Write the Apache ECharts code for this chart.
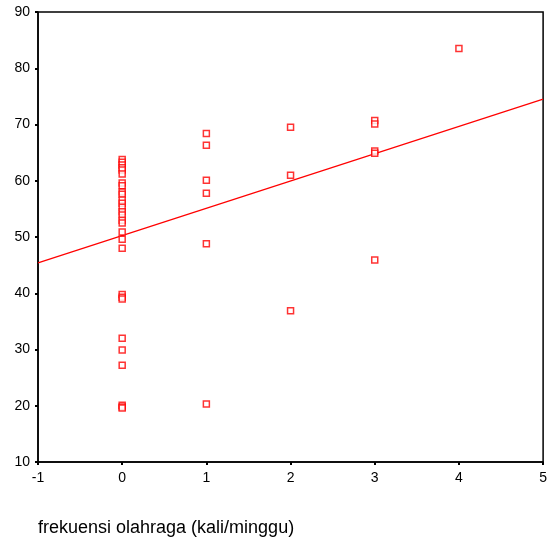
<!DOCTYPE html>
<html>
<head>
<meta charset="utf-8">
<script src="https://cdn.jsdelivr.net/npm/echarts@6/dist/echarts.min.js"></script>
<style>
  html, body { margin: 0; padding: 0; background: #fff; }
  #main { width: 550px; height: 546px; }
</style>
</head>
<body>
<div id="main"></div>
<script>
// frekuensi olahraga (x) vs skor (y)
var freqValues = [
  0, 0, 0, 0, 0, 0, 0, 0, 0, 0, 0, 0, 0, 0, 0, 0, 0, 0, 0, 0,
  0, 0, 0, 0, 0, 0, 0, 0, 0,
  1, 1, 1, 1, 1, 1,
  2, 2, 2,
  3, 3, 3, 3, 3,
  4
];
var scoreValues = [
  63.8, 63.3, 62.8, 62.3, 61.9, 61.2, 59.6, 59.1, 58.0, 57.6, 56.6, 56.0, 55.3, 54.5, 53.9, 53.0, 52.5, 50.9, 49.6, 48.0,
  39.8, 39.3, 39.0, 32.0, 29.9, 27.2, 20.1, 19.8, 19.6,
  68.4, 66.3, 60.1, 57.8, 48.8, 20.3,
  69.5, 61.0, 36.9,
  70.7, 70.1, 65.3, 64.9, 45.9,
  83.5
];
// fitted line end points
var fitX = [-1, 5];
var fitY = [45.4, 74.5];

var xTicks = { min: -1, max: 5, interval: 1 };
var yTicks = { min: 10, max: 90, interval: 10 };

var chart = echarts.init(document.getElementById('main'));

var points = freqValues.map(function (x, i) { return [x, scoreValues[i]]; });
var linePts = fitX.map(function (x, i) { return [x, fitY[i]]; });

chart.setOption({
  animation: false,
  textStyle: { fontFamily: 'Liberation Sans, Arial, sans-serif' },
  grid: {
    left: 38, right: 3, top: 12, bottom: 84,
    show: true, borderColor: '#000', borderWidth: 1.5, backgroundColor: '#fff'
  },
  xAxis: {
    type: 'value',
    min: xTicks.min, max: xTicks.max, interval: xTicks.interval,
    name: 'frekuensi olahraga (kali/minggu)',
    nameLocation: 'start',
    nameGap: 0,
    nameTextStyle: {
      fontSize: 18, color: '#000', align: 'left', verticalAlign: 'top',
      padding: [57, 0, 0, 0]
    },
    axisLine: { show: true, onZero: false, lineStyle: { color: '#000', width: 1.5 } },
    axisTick: { show: true, length: 3, inside: false, lineStyle: { color: '#000', width: 2 } },
    axisLabel: { color: '#000', fontSize: 14, margin: 9 },
    splitLine: { show: false }
  },
  yAxis: {
    type: 'value',
    min: yTicks.min, max: yTicks.max, interval: yTicks.interval,
    axisLine: { show: true, onZero: false, lineStyle: { color: '#000', width: 1.5 } },
    axisTick: { show: true, length: 3, lineStyle: { color: '#000', width: 2 } },
    axisLabel: { color: '#000', fontSize: 14, margin: 8 },
    splitLine: { show: false }
  },
  series: [
    {
      type: 'line',
      data: linePts,
      symbol: 'none',
      lineStyle: { color: '#ff0000', width: 1.2 },
      z: 2
    },
    {
      type: 'scatter',
      data: points,
      symbol: 'rect',
      symbolSize: 6,
      itemStyle: { color: '#fff', borderColor: '#ff0000', borderWidth: 1.5 },
      z: 3
    }
  ]
});
</script>
</body>
</html>
